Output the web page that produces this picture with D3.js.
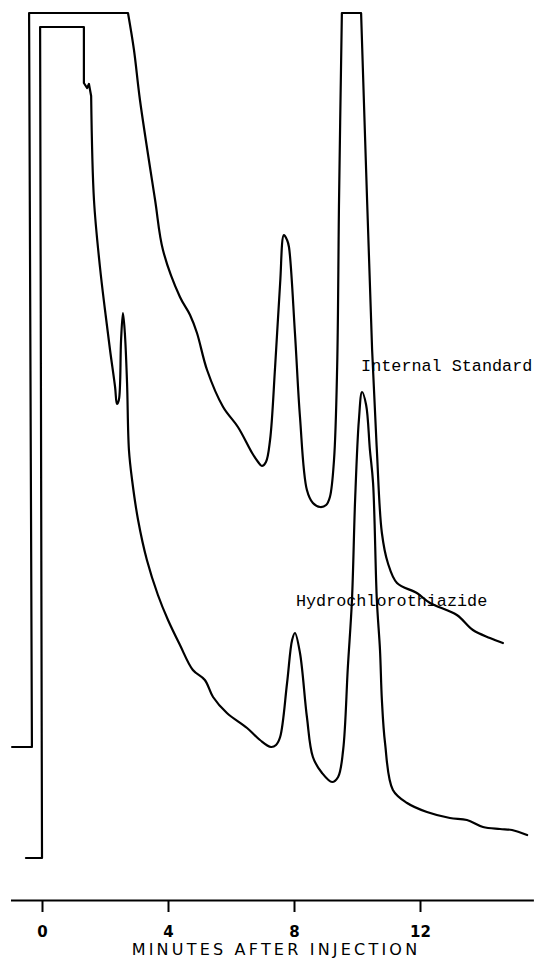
<!DOCTYPE html>
<html><head><meta charset="utf-8">
<script src="https://cdn.jsdelivr.net/npm/d3@7"></script>
<style>body{margin:0;background:#fff}svg{display:block}</style>
</head><body>
<script>
// Time (minutes after injection) and detector response (arbitrary units)
const timeA = [-0.95,-0.32,-0.41,2.73,2.92,3.11,3.59,3.84,4.38,4.70,4.92,5.24,5.75,6.22,6.67,6.86,6.98,7.11,7.24,7.40,7.56,7.68,7.78,7.84,8.03,8.19,8.41,8.60,8.83,9.02,9.14,9.27,9.37,9.43,9.52,10.13,10.32,10.48,10.63,10.79,10.98,11.27,11.90,12.32,13.17,13.68,14.22,14.63];
const respA = [153,153,887,887,850,800,700,650,603,585,567,530,493,473,447,438,434,438,460,533,617,665,660,653,567,483,410,397,393,395,403,440,533,700,887,887,700,550,450,367,337,317,307,297,285,270,262,257];
const timeB = [-0.51,0,-0.06,1.33,1.33,1.43,1.49,1.56,1.65,1.84,2.00,2.16,2.32,2.38,2.44,2.51,2.57,2.63,2.70,2.76,2.86,3.05,3.33,3.68,4.00,4.38,4.79,5.17,5.43,5.87,6.51,6.92,7.27,7.43,7.56,7.78,7.94,8.03,8.19,8.41,8.60,8.89,9.21,9.40,9.56,9.71,9.84,9.94,10.06,10.16,10.29,10.41,10.51,10.63,10.73,10.79,10.89,11.14,11.59,12.22,12.95,13.49,14.00,14.54,14.92,15.40];
const respB = [42,42,873,873,817,812,816,804,700,633,590,550,513,496,500,560,587,567,517,450,420,380,340,305,280,255,230,220,203,187,172,160,153,155,163,217,260,267,247,183,143,127,118,123,150,233,300,400,480,508,495,450,417,300,250,200,157,110,97,88,82,80,73,71,70,65];
// indices of sharp pen corners (recorder off-scale clipping, injection step)
const cornersA = [1, 2, 3, 34, 35];
const cornersB = [1, 2, 3, 4, 5, 6, 7];
const tickValues = [0, 4, 8, 12];
const tickLabels = ["0", "4", "8", "12"];
const xTitle = "MINUTES AFTER INJECTION";
const peakNames = ["Internal Standard", "Hydrochlorothiazide"];
const peakLabelTime = [10.13, 8.06];
const peakLabelResp = [529, 294];

const W = 535, H = 959;
const svg = d3.select("body").append("svg").attr("width", W).attr("height", H);
const x = d3.scaleLinear().domain([-1, 15.6]).range([10.5, 533.4]);
const y = d3.scaleLinear().domain([0, 900]).range([900, 0]);

const smooth = d3.line().x(d => x(d[0])).y(d => y(d[1])).curve(d3.curveCatmullRom.alpha(0.5));
function tracePath(pts, corners) {
  const cuts = [0, ...corners, pts.length - 1];
  let d = "";
  for (let i = 0; i < cuts.length - 1; i++) {
    const seg = pts.slice(cuts[i], cuts[i + 1] + 1);
    let s = smooth(seg);
    if (i > 0) s = "L" + s.slice(1).replace(/^[^A-Za-z]*/, m => m);
    d += s;
  }
  return d;
}
const traces = [tracePath(d3.zip(timeA, respA), cornersA), tracePath(d3.zip(timeB, respB), cornersB)];
svg.selectAll("path.trace").data(traces).join("path")
  .attr("class", "trace")
  .attr("d", d => d)
  .attr("fill", "none").attr("stroke", "#000").attr("stroke-width", 2.2)
  .attr("stroke-linejoin", "round").attr("stroke-linecap", "round");

const axis = d3.axisBottom(x).tickValues(tickValues).tickFormat((d, i) => tickLabels[i]).tickSize(12).tickSizeOuter(0);
const gx = svg.append("g").attr("transform", "translate(0,900)").call(axis);
gx.select(".domain").attr("stroke", "#000").attr("stroke-width", 2);
gx.selectAll(".tick line").attr("stroke", "#000").attr("stroke-width", 2);
gx.selectAll(".tick text").attr("y", 26).attr("fill", "#000")
  .style("font-family", "'DejaVu Sans', sans-serif").style("font-size", "15px").style("font-weight", "bold");

svg.append("text").attr("x", 276).attr("y", 955).attr("text-anchor", "middle")
  .style("font-family", "'DejaVu Sans', sans-serif").style("font-size", "16px").style("letter-spacing", "3.2px")
  .text(xTitle);

svg.selectAll("text.peak").data(peakNames).join("text").attr("class", "peak")
  .attr("x", (d, i) => x(peakLabelTime[i])).attr("y", (d, i) => y(peakLabelResp[i]))
  .style("font-family", "'Liberation Mono', monospace").style("font-size", "16.8px")
  .attr("fill", "#000").text(d => d);
</script>
</body></html>
